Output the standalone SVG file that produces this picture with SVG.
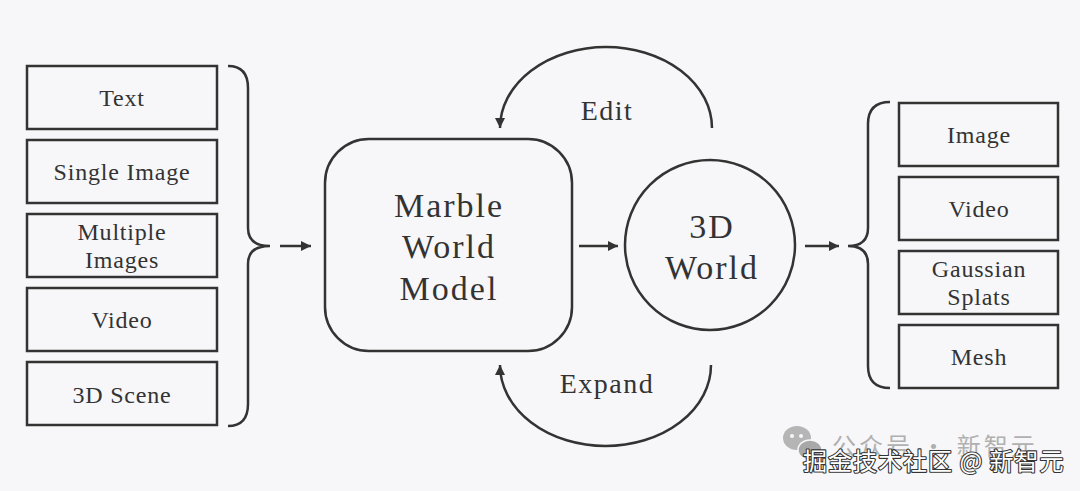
<svg xmlns="http://www.w3.org/2000/svg" width="1080" height="491" viewBox="0 0 1080 491">
<defs>
<style>
.bg{fill:#f7f7f9}
.box{fill:none;stroke:#333;stroke-width:2.5}
.ln{fill:none;stroke:#333;stroke-width:2.5}
.t{font-family:"Liberation Serif",serif;fill:#333;text-anchor:middle}
.s{font-size:24px;letter-spacing:0.8px}
.b{font-size:34px;letter-spacing:2px}
.l{font-size:28px;letter-spacing:1.5px}
.wm{font-family:"Noto Sans CJK SC",sans-serif;font-size:24px}
</style>
<marker id="ah" viewBox="0 0 10 10" refX="10" refY="5" markerWidth="10" markerHeight="10" markerUnits="userSpaceOnUse" orient="auto">
<path d="M0,0 L10,5 L0,10 Z" fill="#333"/>
</marker>
</defs>
<rect class="bg" x="0" y="0" width="1080" height="491"/>

<g id="in-text"><rect class="box" x="27" y="66" width="190" height="63"/><text class="t s" x="122" y="106">Text</text></g>
<g id="in-single-image"><rect class="box" x="27" y="140" width="190" height="63"/><text class="t s" x="122" y="180">Single Image</text></g>
<g id="in-multiple-images"><rect class="box" x="27" y="214" width="190" height="63"/><text class="t s" x="122" y="240">Multiple</text><text class="t s" x="122" y="268">Images</text></g>
<g id="in-video"><rect class="box" x="27" y="288" width="190" height="63"/><text class="t s" x="122" y="328">Video</text></g>
<g id="in-3d-scene"><rect class="box" x="27" y="362" width="190" height="63"/><text class="t s" x="122" y="403">3D Scene</text></g>

<g id="marble-world-model"><rect class="box" x="325" y="139" width="247" height="212" rx="44" ry="44"/>
<text class="t b" x="449" y="217">Marble</text><text class="t b" x="449" y="258">World</text><text class="t b" x="449" y="300">Model</text></g>

<g id="world-3d"><circle class="box" cx="710" cy="245" r="85"/>
<text class="t b" x="712" y="238">3D</text><text class="t b" x="712" y="279">World</text></g>

<g id="out-image"><rect class="box" x="899" y="103" width="159" height="63"/><text class="t s" x="979" y="143">Image</text></g>
<g id="out-video"><rect class="box" x="899" y="177" width="159" height="63"/><text class="t s" x="979" y="217">Video</text></g>
<g id="out-gaussian-splats"><rect class="box" x="899" y="251" width="159" height="63"/><text class="t s" x="979" y="277">Gaussian</text><text class="t s" x="979" y="305">Splats</text></g>
<g id="out-mesh"><rect class="box" x="899" y="325" width="159" height="63"/><text class="t s" x="979" y="365">Mesh</text></g>

<g id="connectors">
<path class="ln" d="M228,66 Q248,66 248,88 L248,228 Q248,246 270,246 Q248,246 248,264 L248,404 Q248,426 228,426"/>
<path class="ln" d="M890,102 Q868,102 868,124 L868,228 Q868,246 848,246 Q868,246 868,264 L868,366 Q868,388 890,388"/>
<line class="ln" x1="280" y1="246" x2="311" y2="246" marker-end="url(#ah)"/>
<line class="ln" x1="579" y1="246" x2="618" y2="246" marker-end="url(#ah)"/>
<line class="ln" x1="805" y1="246" x2="839" y2="246" marker-end="url(#ah)"/>
<path class="ln" d="M712,128 A106,81 0 0 0 500,128" marker-end="url(#ah)"/>
<path class="ln" d="M711,365 A105.5,81 0 0 1 500,365" marker-end="url(#ah)"/>
<text class="t l" x="607" y="120">Edit</text>
<text class="t l" x="607" y="393">Expand</text>
</g>

<g id="watermark">
<ellipse cx="797" cy="438" rx="14" ry="12" fill="#b5b5b5"/>
<ellipse cx="810" cy="450" rx="12" ry="10" fill="#a8a8a8" stroke="#f7f7f9" stroke-width="1.5"/>
<circle cx="792" cy="436" r="2" fill="#f7f7f9"/><circle cx="801" cy="436" r="2" fill="#f7f7f9"/>
<text class="wm" x="832" y="455" fill="#b0b0b0" letter-spacing="3">公众号 · 新智元</text>
<text class="wm" x="803" y="470" fill="#ffffff" stroke="#333" stroke-width="2.2" paint-order="stroke" stroke-linejoin="round" letter-spacing="1">掘金技术社区 @ 新智元</text>
</g>
</svg>
